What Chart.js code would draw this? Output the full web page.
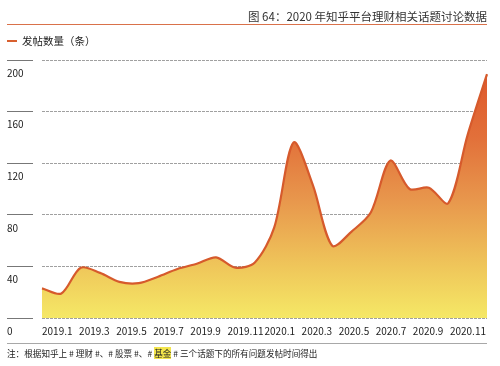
<!DOCTYPE html>
<html>
<head>
<meta charset="utf-8">
<script src="https://cdn.jsdelivr.net/npm/chart.js@4.4.1/dist/chart.umd.min.js"></script>
<style>
  html, body { margin: 0; padding: 0; background: #fff; }
  #wrap { position: relative; width: 500px; height: 366px; overflow: hidden; font-family: "Noto Sans CJK SC", sans-serif; color: #333; }
  #c { position: absolute; left: 0; top: 0; }
  #title { position: absolute; right: 13px; top: 7px; font-size: 11.5px; line-height: 18px; color: #333; white-space: nowrap; }
  #rule { position: absolute; left: 7px; width: 480px; top: 24px; height: 0; border-top: 1.5px solid #d9714a; }
  #legend { position: absolute; left: 7px; top: 33px; height: 16px; line-height: 16px; font-size: 10.5px; color: #222; white-space: nowrap; }
  #legend .mk { display: inline-block; width: 10px; height: 2.5px; background: #d8602f; vertical-align: middle; margin-right: 5px; position: relative; top: -1px; }
  #rule2 { position: absolute; left: 7px; width: 480px; top: 343px; height: 0; border-top: 1px solid #a8a8a8; }
  #note { position: absolute; left: 7px; top: 346px; font-size: 8.6px; line-height: 14px; color: #222; white-space: nowrap; }
  #note .hl { background: #f3e54c; }
</style>
</head>
<body>
<div id="wrap">
  <canvas id="c" width="500" height="366"></canvas>
  <div id="title">图 64：2020 年知乎平台理财相关话题讨论数据</div>
  <div id="rule"></div>
  <div id="legend"><span class="mk"></span>发帖数量（条）</div>
  <div id="rule2"></div>
  <div id="note">注：根据知乎上 # 理财 #、# 股票 #、# <span class="hl">基金</span> # 三个话题下的所有问题发帖时间得出</div>
</div>
<script>
// ---- data ----
const months = ['2019.1','2019.2','2019.3','2019.4','2019.5','2019.6','2019.7','2019.8','2019.9','2019.10','2019.11','2019.12',
                '2020.1','2020.2','2020.3','2020.4','2020.5','2020.6','2020.7','2020.8','2020.9','2020.10','2020.11','2020.12'];
const posts = [23, 19, 39, 35, 28, 27, 32, 38, 42, 47, 39, 43,
               70, 136, 103, 56, 67, 82, 122, 100, 101, 89, 142, 189];
const tickLabels = ['2019.1','2019.3','2019.5','2019.7','2019.9','2019.11','2020.1','2020.3','2020.5','2020.7','2020.9','2020.11'];
const yTicks = [0, 40, 80, 120, 160, 200];
const seriesName = '发帖数量（条）';

const FONT = '"Noto Sans CJK SC", sans-serif';

function areaGradient(context) {
  const chart = context.chart;
  const area = chart.chartArea;
  if (!area) return '#f0b050';
  const g = chart.ctx.createLinearGradient(0, area.top, 0, area.bottom);
  g.addColorStop(0, '#dd5228');
  g.addColorStop(0.3, '#e2703a');
  g.addColorStop(0.55, '#e8984d');
  g.addColorStop(0.8, '#efc65a');
  g.addColorStop(1, '#f5e866');
  return g;
}

new Chart(document.getElementById('c'), {
  type: 'line',
  data: {
    labels: months,
    datasets: [{
      label: seriesName,
      data: posts,
      xAxisID: 'x',
      yAxisID: 'y',
      borderColor: '#d65a2c',
      borderWidth: 2.2,
      backgroundColor: areaGradient,
      fill: 'origin',
      tension: 0.3,
      pointRadius: 0,
      pointHoverRadius: 0
    }]
  },
  options: {
    responsive: false,
    animation: false,
    events: [],
    layout: { padding: { left: 7, right: 13, top: 60, bottom: 0 } },
    plugins: { legend: { display: false }, tooltip: { enabled: false }, title: { display: false } },
    scales: {
      x: {
        type: 'category',
        display: false,
        offset: false
      },
      xl: {
        type: 'linear',
        position: 'bottom',
        min: 0,
        max: tickLabels.length,
        afterBuildTicks(scale) {
          scale.ticks = tickLabels.map((t, i) => ({ value: i })).concat([{ value: tickLabels.length }]);
        },
        afterFit(scale) { scale.height = 48; },
        grid: { display: false, drawTicks: false },
        border: { display: false },
        ticks: {
          autoSkip: false,
          maxRotation: 0,
          align: 'start',
          padding: 7,
          color: '#222',
          font: { family: FONT, size: 10 },
          callback: (v) => (tickLabels[v] !== undefined ? tickLabels[v] : '')
        }
      },
      y: {
        type: 'linear',
        position: 'left',
        min: yTicks[0],
        max: yTicks[yTicks.length - 1],
        afterBuildTicks(scale) { scale.ticks = yTicks.map(v => ({ value: v })); },
        afterFit(scale) { scale.width = 35; },
        border: { display: false, dash: [3, 1] },
        grid: {
          color: '#a0a0a0',
          lineWidth: 1,
          drawTicks: true,
          tickLength: 35,
          tickColor: '#777',
          tickWidth: 1,
          tickBorderDash: [26, 60]
        },
        ticks: {
          crossAlign: 'far',
          labelOffset: 13,
          padding: 0,
          color: '#222',
          font: { family: FONT, size: 10 }
        }
      }
    }
  }
});
</script>
</body>
</html>
